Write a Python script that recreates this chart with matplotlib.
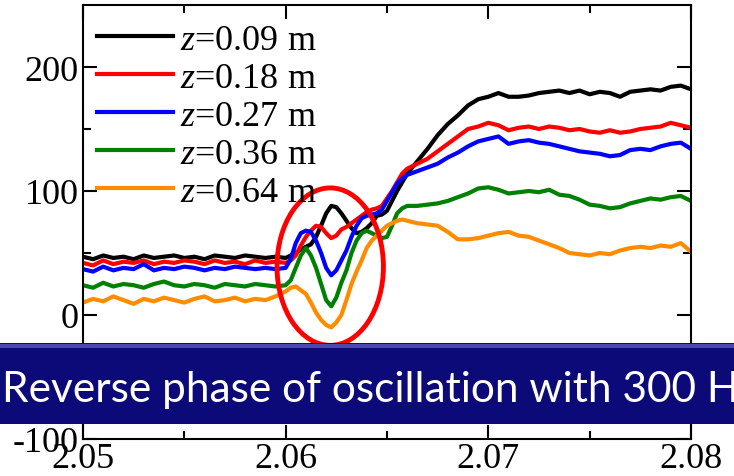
import matplotlib.pyplot as plt
from matplotlib.patches import Ellipse, Rectangle

# time axis (s)
t = [2.0500, 2.0505, 2.0510, 2.0515, 2.0520, 2.0525, 2.0530, 2.0535, 2.0540, 2.0545,
     2.0550, 2.0555, 2.0560, 2.0565, 2.0570, 2.0575, 2.0580, 2.0585, 2.0590, 2.0595,
     2.06000, 2.06025, 2.06050, 2.06075, 2.06100, 2.06125, 2.06150, 2.06175, 2.06200,
     2.06225, 2.06250, 2.06275, 2.06300, 2.06325, 2.06350, 2.06375, 2.06400, 2.06425,
     2.06450, 2.06475, 2.06500, 2.06525, 2.06550, 2.06575, 2.06600,
     2.0665, 2.0670, 2.0675, 2.0680, 2.0685, 2.0690, 2.0695, 2.0700, 2.0705, 2.0710,
     2.0715, 2.0720, 2.0725, 2.0730, 2.0735, 2.0740, 2.0745, 2.0750, 2.0755, 2.0760,
     2.0765, 2.0770, 2.0775, 2.0780, 2.0785, 2.0790, 2.0795, 2.0800]

z009 = [47, 45, 48, 46, 47, 45, 48, 46, 47, 48, 46, 47, 45, 48, 47, 46, 48, 47, 46, 47,
        46, 48, 50, 53, 55, 57, 63, 72, 82, 88, 87, 82, 76, 70, 66, 67, 70, 74, 80, 81,
        84, 92, 100, 107, 114,
        124, 134, 145, 154, 161, 169, 174, 176, 179, 176, 176, 177, 179, 180, 181, 179,
        181, 178, 180, 179, 176, 180, 181, 182, 181, 184, 185, 182]

z018 = [42, 40, 44, 41, 43, 42, 44, 41, 43, 42, 44, 43, 41, 44, 42, 43, 41, 44, 42, 43,
        42, 44, 48, 56, 63, 68, 72, 71, 66, 62, 64, 69, 71, 74, 77, 80, 83, 85, 86, 88,
        94, 100, 107, 114, 118,
        122, 126, 132, 138, 144, 150, 152, 155, 153, 149, 151, 152, 150, 152, 151, 149,
        150, 148, 147, 149, 147, 148, 150, 151, 152, 155, 153, 151]

z027 = [37, 35, 39, 36, 38, 37, 41, 36, 38, 37, 39, 38, 36, 38, 37, 39, 38, 37, 38, 37,
        38, 45, 58, 66, 68, 67, 60, 50, 38, 32, 36, 44, 52, 63, 72, 78, 80, 81, 82, 85,
        92, 99, 106, 110, 113,
        116, 119, 122, 127, 131, 136, 140, 142, 144, 138, 140, 141, 139, 138, 136, 134,
        132, 131, 130, 128, 129, 133, 134, 133, 136, 138, 139, 134]

z036 = [24, 22, 26, 23, 25, 24, 22, 25, 27, 24, 23, 25, 24, 22, 25, 24, 23, 25, 24, 23,
        24, 28, 38, 48, 54, 48, 38, 25, 12, 7, 14, 26, 36, 50, 60, 66, 68, 66, 64, 62,
        63, 72, 82, 86, 88,
        88, 89, 90, 92, 95, 98, 102, 103, 101, 98, 99, 100, 99, 101, 97, 96,
        93, 89, 88, 86, 87, 90, 92, 94, 93, 95, 96, 92]

z064 = [10, 13, 11, 15, 12, 9, 13, 11, 14, 12, 10, 13, 15, 11, 12, 14, 11, 13, 12, 15,
        19, 22, 23, 20, 17, 10, 2, -4, -8, -10, -6, 0, 12, 25, 35, 44, 54, 60, 64, 68,
        72, 74, 76, 77, 76,
        74, 73, 72, 67, 61, 61, 62, 64, 66, 67, 64, 63, 60, 57, 54, 50,
        49, 48, 50, 49, 52, 54, 55, 54, 56, 55, 58, 51]

series = [z009, z018, z027, z036, z064]
labels = ["$z$=0.09 m", "$z$=0.18 m", "$z$=0.27 m", "$z$=0.36 m", "$z$=0.64 m"]
colors = ["black", "red", "blue", "green", "darkorange"]

plt.rcParams["font.family"] = "Liberation Serif"
plt.rcParams["mathtext.fontset"] = "custom"
plt.rcParams["mathtext.rm"] = "Liberation Serif"
plt.rcParams["mathtext.it"] = "Liberation Serif:italic"
plt.rcParams["axes.unicode_minus"] = False

fig = plt.figure(figsize=(7.34, 4.77), dpi=100)
ax = fig.add_axes([0.113, 0.0776, 0.8284, 0.9098])

for y, lab, c in zip(series, labels, colors):
    ax.plot(t, y, color=c, lw=3, label=lab)

ax.set_xlim(2.05, 2.08)
ax.set_ylim(-100, 250)
ax.set_xticks([2.05, 2.06, 2.07, 2.08])
ax.set_xticklabels(["2.05", "2.06", "2.07", "2.08"])
ax.set_xticks([2.055, 2.065, 2.075], minor=True)
ax.set_yticks([-100, 0, 100, 200])
ax.set_yticks([-50, 50, 150], minor=True)
ax.tick_params(which="both", direction="in", top=True, right=True, width=1.5,
               labelsize=26)
ax.tick_params(which="major", length=10)
ax.tick_params(which="minor", length=6)
ax.tick_params(axis="x", which="major", pad=2)
ax.tick_params(axis="y", which="major", pad=3)
for s in ax.spines.values():
    s.set_linewidth(1.5)

ax.legend(loc="upper left", frameon=False, fontsize=26, handlelength=2.1,
          handletextpad=0.2, labelspacing=0.13, borderaxespad=0.0,
          bbox_to_anchor=(0.0, 0.99))

ax.add_patch(Ellipse((2.0622, 39), 0.00525, 127, fill=False, ec="red", lw=3.5,
                     zorder=5))

# banner overlay
fig.patches.append(Rectangle((0, 0.108), 1, 0.17, transform=fig.transFigure,
                             fc="#0c0a78", ec="none", zorder=10))
fig.patches.append(Rectangle((0, 0.268), 1, 0.009, transform=fig.transFigure,
                             fc="#4a48b0", ec="none", zorder=11))
fig.text(0.003, 0.157, "Reverse phase of oscillation with 300 Hz", color="white",
         fontsize=30.5, family="Lato", ha="left", va="baseline", zorder=12)

fig.savefig("out.png", dpi=100)
